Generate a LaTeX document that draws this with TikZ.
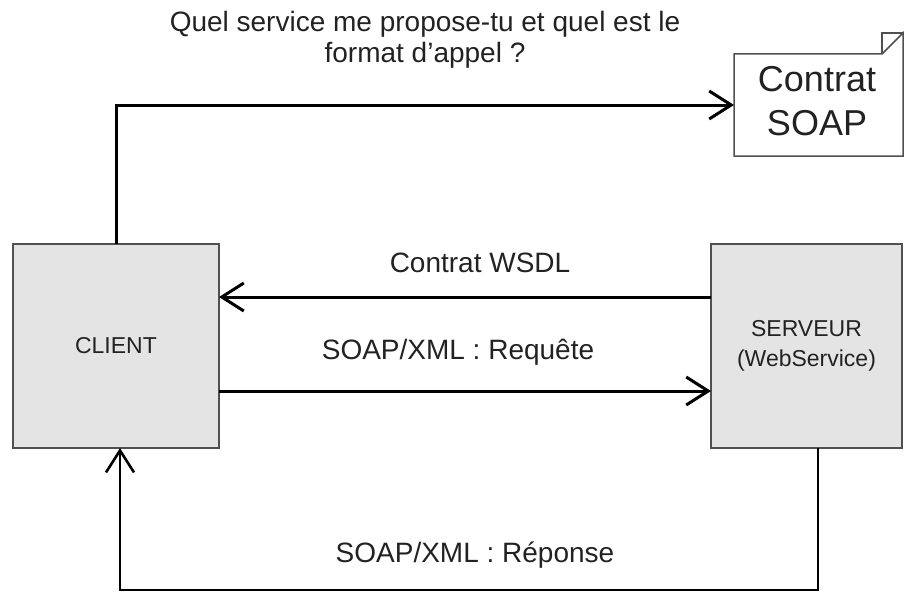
\documentclass[tikz,border=0pt]{standalone}
\usepackage{fontspec}
\setmainfont{Liberation Sans}
\usetikzlibrary{arrows.meta}
\definecolor{boxfill}{HTML}{E4E4E4}
\definecolor{boxline}{HTML}{505050}
\definecolor{txt}{HTML}{222222}
\tikzset{
  box/.style={draw=boxline, line width=1.5pt, fill=boxfill, inner sep=0pt, outer sep=0pt,
    text=txt, align=center, font=\fontsize{23}{30}\selectfont},
  lbl/.style={text=txt, align=center, inner sep=0pt, font=\fontsize{28}{31}\selectfont},
  conn/.style={line width=3pt, -{Straight Barb[length=22pt,width=28pt,line width=3pt]}},
  connthin/.style={line width=2.2pt, -{Straight Barb[length=22pt,width=28pt,line width=2.6pt]}},
}
\begin{document}
\begin{tikzpicture}[x=1pt,y=-1pt]
\useasboundingbox (0,0) rectangle (904,594);
\node[box, minimum width=206pt, minimum height=204pt] (client) at (116,346) {CLIENT};
\node[box, minimum width=191pt, minimum height=204pt] (server) at (806.5,346) {SERVEUR\\(WebService)};
% document with folded corner
\node[inner sep=0pt, outer sep=0pt, minimum width=169pt, minimum height=102pt] (doc) at (818.5,105) {};
\draw[draw=boxline, line width=1.5pt, fill=white]
  (doc.south west) -- (doc.north west) -- ([xshift=-21pt]doc.north east)
  -- ([yshift=21pt]doc.north east) -- (doc.south east) -- cycle;
\draw[draw=boxline, line width=1.2pt]
  ([xshift=-21pt]doc.north east) -- ([xshift=-21pt,yshift=21pt]doc.north east) -- ([yshift=21pt]doc.north east);
\node[lbl, font=\fontsize{36}{44}\selectfont] (doctext) at (817,101) {Contrat\\SOAP};
% labels
\node[lbl] (question) at (425,40) {Quel service me propose-tu et quel est le\\format d'appel ?};
\node[lbl] (wsdllbl) at (480,263) {Contrat WSDL};
\node[lbl] (reqlbl) at (458,352) {SOAP/XML : Requête};
\node[lbl] (replbl) at (475,555) {SOAP/XML : Réponse};
% connectors
\coordinate (wsdl) at (460,297);
\coordinate (req) at (460,391);
\coordinate (botR) at (818,590);
\coordinate (botL) at (120,590);
\draw[conn] (client.north) |- (doc.west);
\draw[conn] (server.west |- wsdl) -- (client.east |- wsdl);
\draw[conn] (client.east |- req) -- (server.west |- req);
\draw[connthin] (server.south -| botR) -- (botR) -- (botL) -- (client.south -| botL);
\end{tikzpicture}
\end{document}
